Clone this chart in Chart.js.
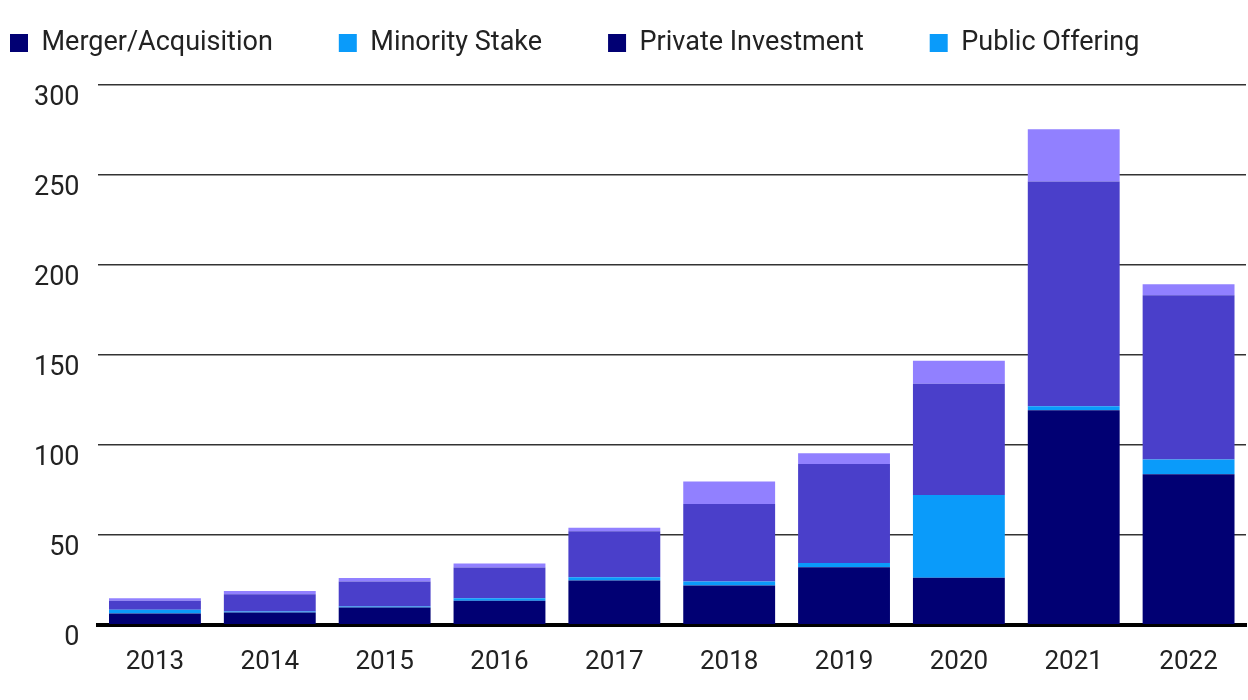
<!DOCTYPE html>
<html>
<head>
<meta charset="utf-8">
<script src="https://cdn.jsdelivr.net/npm/chart.js@4.4.0/dist/chart.umd.min.js"></script>
<style>
html,body{margin:0;padding:0;background:#fff;}
#wrap{width:1248px;height:700px;position:relative;}
</style>
</head>
<body>
<div id="wrap"><canvas id="c"></canvas></div>
<script>
const categories = ['2013','2014','2015','2016','2017','2018','2019','2020','2021','2022'];
const seriesNames = ['Merger/Acquisition','Minority Stake','Private Investment','Public Offering'];
const mergerAcquisition = [6.3, 6.8, 9.6, 13.3, 24.6, 21.8, 32.0, 26.1, 119.3, 83.7];
const minorityStake     = [2.0, 0.6, 0.6, 1.5, 1.8, 2.3, 2.4, 46.1, 2.2, 8.1];
const privateInvestment = [5.0, 9.6, 13.9, 17.0, 25.6, 43.1, 55.0, 61.7, 124.8, 91.4];
const publicOffering    = [1.5, 1.8, 1.9, 2.2, 2.0, 12.4, 6.0, 12.9, 29.1, 6.1];
const yTicks = [0, 50, 100, 150, 200, 250, 300];

const barColors = ['#010073', '#0a9bfa', '#4a3fca', '#9180ff'];
const legendColors = ['#010073', '#0a9bfa', '#010073', '#0a9bfa'];
const seriesValues = [mergerAcquisition, minorityStake, privateInvestment, publicOffering];

const FONT = 'Roboto, "Noto Sans", sans-serif';
const LEGEND_GAP = 66;
const LEGEND_FONT = 27;
const LEGEND_START_X = 10;
const LEGEND_TEXT_MID_Y = 43;
const EXTRA_LEFT = 40;

// place the legend row independently of the chart area
const legendPlacer = {
  id: 'legendPlacer',
  afterLayout(chart) {
    const lg = chart.legend;
    if (!lg) return;
    lg.left = LEGEND_START_X - LEGEND_GAP;
    lg.right = chart.width;
    lg.top = LEGEND_TEXT_MID_Y - LEGEND_FONT / 2 - LEGEND_GAP;
  }
};

new Chart(document.getElementById('c'), {
  type: 'bar',
  data: {
    labels: categories,
    datasets: seriesNames.map((n, i) => ({
      label: n,
      data: seriesValues[i],
      backgroundColor: barColors[i],
      borderWidth: 0,
      barPercentage: 0.8,
      categoryPercentage: 1.0
    }))
  },
  options: {
    responsive: true,
    maintainAspectRatio: false,
    animation: false,
    layout: { padding: { left: 16 - EXTRA_LEFT, right: 2, top: -18, bottom: 0 } },
    plugins: {
      tooltip: { enabled: false },
      legend: {
        position: 'top',
        align: 'start',
        labels: {
          boxWidth: 18,
          boxHeight: 18,
          padding: LEGEND_GAP,
          color: '#222',
          font: { family: FONT, size: LEGEND_FONT },
          generateLabels: (chart) => chart.data.datasets.map((ds, i) => ({
            text: ds.label,
            fillStyle: legendColors[i],
            strokeStyle: legendColors[i],
            lineWidth: 0,
            hidden: false,
            datasetIndex: i,
            fontColor: '#222'
          }))
        }
      }
    },
    scales: {
      x: {
        stacked: true,
        grid: { display: false, drawTicks: false },
        border: { display: true, color: '#000', width: 4 },
        ticks: { color: '#222', font: { family: FONT, size: 26 }, padding: 22 }
      },
      y: {
        stacked: true,
        min: 0,
        max: 300,
        afterBuildTicks: (axis) => { axis.ticks = yTicks.map(v => ({ value: v })); },
        afterFit: (axis) => { axis.width += EXTRA_LEFT; },
        grid: { color: '#333', lineWidth: 1.5, drawTicks: false },
        border: { display: false },
        ticks: { color: '#222', font: { family: FONT, size: 27 }, padding: 18, labelOffset: 13 }
      }
    }
  },
  plugins: [legendPlacer]
});
</script>
</body>
</html>
